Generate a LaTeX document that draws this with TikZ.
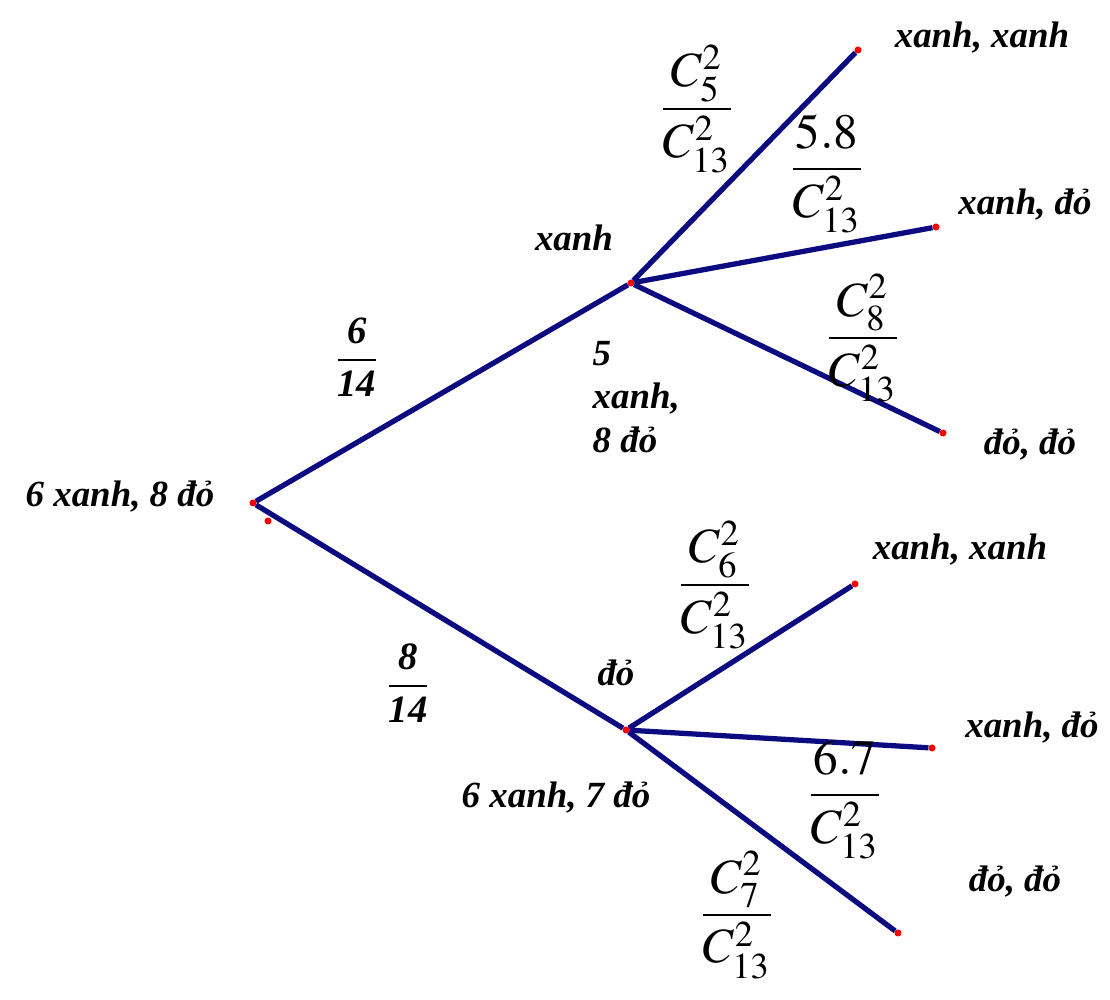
\documentclass[tikz,border=0pt]{standalone}
\usepackage{amsmath}
\usepackage{mathptmx}
\usepackage{fontspec}
\setmainfont{Liberation Serif}
\usepackage{tkz-graph}
\usetikzlibrary{arrows}
\usetikzlibrary{shapes}
\definecolor{edgeBlue}{RGB}{12,12,128}

\begin{document}
\begin{tikzpicture}[scale = 10]
\tikzstyle{VertexStyle} = []
\tikzstyle{EdgeStyle} = [draw = edgeBlue, line width = 1.5pt]
\tikzstyle{dotStyle} = [shape = circle, minimum size = 2pt, inner sep = 0pt, fill = red]
\tikzstyle{textStyle} = [inner sep = 0pt, font = \fontsize{10.5}{12.4}\selectfont\bfseries\itshape]
\tikzstyle{fracStyle} = [inner sep = 0pt, font = \fontsize{14}{16}\selectfont]
\tikzstyle{numStyle} = [inner sep = 0pt, font = \fontsize{11}{13}\selectfont]
\useasboundingbox (0,0) rectangle (1.11,1.00);
\Vertex[style = dotStyle, x = 0.253, y = 0.497, NoLabel]{v0}
\Vertex[style = dotStyle, x = 0.631, y = 0.717, NoLabel]{v1}
\Vertex[style = dotStyle, x = 0.626, y = 0.270, NoLabel]{v2}
\Vertex[style = dotStyle, x = 0.858, y = 0.950, NoLabel]{v3}
\Vertex[style = dotStyle, x = 0.936, y = 0.773, NoLabel]{v4}
\Vertex[style = dotStyle, x = 0.943, y = 0.567, NoLabel]{v5}
\Vertex[style = dotStyle, x = 0.855, y = 0.416, NoLabel]{v6}
\Vertex[style = dotStyle, x = 0.932, y = 0.252, NoLabel]{v7}
\Vertex[style = dotStyle, x = 0.898, y = 0.067, NoLabel]{v8}
\Edge[](v0)(v1)
\Edge[](v0)(v2)
\Edge[](v1)(v3)
\Edge[](v1)(v4)
\Edge[](v1)(v5)
\Edge[](v2)(v6)
\Edge[](v2)(v7)
\Edge[](v2)(v8)
\node[dotStyle] (dot) at (0.268, 0.479) {};
% states
\node[textStyle] (s0) at (0.120, 0.503) {6 xanh, 8 đỏ};
\node[textStyle] (s1) at (0.574, 0.762) {xanh};
\node[textStyle, anchor = west, align = left] (s1r) at (0.592, 0.603) {5\\xanh,\\8 đỏ};
\node[textStyle] (s2) at (0.616, 0.327) {đỏ};
\node[textStyle] (s2r) at (0.556, 0.202) {6 xanh, 7 đỏ};
% outcomes
\node[textStyle] (o3) at (0.982, 0.962) {xanh, xanh};
\node[textStyle] (o4) at (1.025, 0.795) {xanh, đỏ};
\node[textStyle] (o5) at (1.030, 0.555) {đỏ, đỏ};
\node[textStyle] (o6) at (0.960, 0.450) {xanh, xanh};
\node[textStyle] (o7) at (1.032, 0.272) {xanh, đỏ};
\node[textStyle] (o8) at (1.015, 0.118) {đỏ, đỏ};
% probabilities
\node[numStyle] (p1) at (0.357, 0.643) {$\dfrac{\mbox{\bfseries\itshape 6}}{\mbox{\bfseries\itshape 14}}$};
\node[numStyle] (p2) at (0.408, 0.317) {$\dfrac{\mbox{\bfseries\itshape 8}}{\mbox{\bfseries\itshape 14}}$};
\node[fracStyle] (p3) at (0.697, 0.891) {$\dfrac{C_5^2}{C_{13}^2}$};
\node[fracStyle] (p4) at (0.827, 0.826) {$\dfrac{5.8}{C_{13}^2}$};
\node[fracStyle] (p5) at (0.863, 0.662) {$\dfrac{C_8^2}{C_{13}^2}$};
\node[fracStyle] (p6) at (0.715, 0.415) {$\dfrac{C_6^2}{C_{13}^2}$};
\node[fracStyle] (p7) at (0.845, 0.200) {$\dfrac{6.7}{C_{13}^2}$};
\node[fracStyle] (p8) at (0.737, 0.085) {$\dfrac{C_7^2}{C_{13}^2}$};
\end{tikzpicture}
\end{document}
